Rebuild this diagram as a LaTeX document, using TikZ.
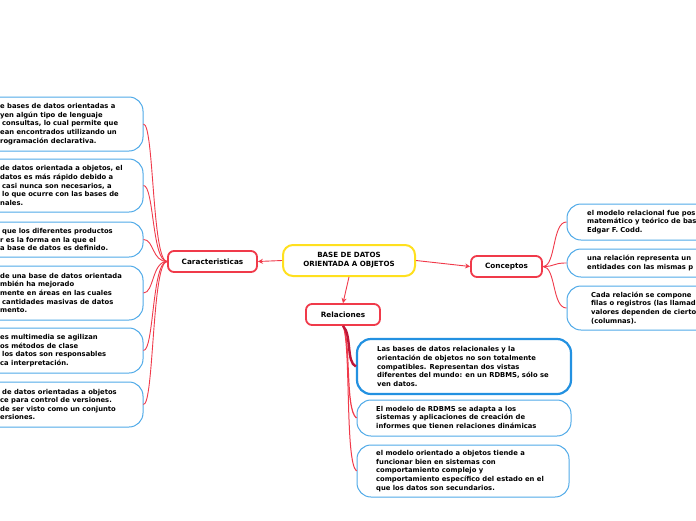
\documentclass[tikz,border=0pt]{standalone}
\usepackage{fontspec}
\setmainfont{DejaVu Sans}
\usetikzlibrary{arrows.meta}
\definecolor{mred}{RGB}{240,58,74}
\definecolor{mcrim}{RGB}{190,22,56}
\definecolor{myel}{RGB}{255,224,30}
\definecolor{mblue}{RGB}{80,170,232}
\definecolor{mbluedk}{RGB}{35,145,225}
\tikzset{
  txt/.style={font=\bfseries\fontsize{6.8}{8.6}\selectfont, align=left, inner sep=0pt, anchor=west, text=black},
  centralbox/.style={draw=myel, line width=2pt, rounded corners=10pt, fill=white, minimum width=132pt, minimum height=31pt, inner sep=0pt, align=center, font=\bfseries\fontsize{7.1}{9}\selectfont},
  redbox/.style={draw=mred, line width=1.8pt, rounded corners=6pt, fill=white, minimum height=21pt, inner sep=0pt, font=\bfseries\fontsize{7.3}{8}\selectfont},
  bluebox/.style={draw=mblue, line width=1pt, rounded corners=14pt, fill=white, inner sep=0pt},
  bluethick/.style={draw=mbluedk, line width=2.2pt, rounded corners=14pt, fill=white, inner sep=0pt},
  conn/.style={draw=mred, line width=0.9pt},
  arr/.style={draw=mred, line width=0.9pt, -{Stealth[length=5pt,width=5pt]}}
}
\begin{document}
\begin{tikzpicture}[x=1pt,y=-1pt]
\useasboundingbox (0,0) rectangle (696,520);
\clip (0,0) rectangle (696,520);
\fill[white] (0,0) rectangle (696,520);

% main nodes
\node[centralbox] (c) at (349,260.5) {BASE DE DATOS\\ORIENTADA A OBJETOS};
\node[redbox, minimum width=89pt] (car) at (212.5,261.5) {Caracteristicas};
\node[redbox, minimum width=74pt] (rel) at (343,314.5) {Relaciones};
\node[redbox, minimum width=71pt] (con) at (506.5,266.5) {Conceptos};

% left boxes
\node[bluebox, minimum width=223pt, minimum height=54pt] (l1) at (31.5,124) {};
\node[bluebox, minimum width=223pt, minimum height=53pt] (l2) at (31.5,185.5) {};
\node[bluebox, minimum width=223pt, minimum height=35pt] (l3) at (31.5,239.5) {};
\node[bluebox, minimum width=223pt, minimum height=54pt] (l4) at (31.5,293) {};
\node[bluebox, minimum width=223pt, minimum height=45pt] (l5) at (31.5,350.5) {};
\node[bluebox, minimum width=223pt, minimum height=45pt] (l6) at (31.5,404.5) {};

\node[txt] (t1) at (0,124) {e bases de datos orientadas a\\yen algún tipo de lenguaje\\\hspace*{2pt}consultas, lo cual permite que\\ean encontrados utilizando un\\rogramación declarativa.};
\node[txt] (t2) at (0,185.5) {de datos orientada a objetos, el\\datos es más rápido debido a\\\hspace*{2pt}casi nunca son necesarios, a\\\hspace*{2pt}lo que ocurre con las bases de\\nales.};
\node[txt] (t3) at (0,239.5) {\hspace*{2pt}que los diferentes productos\\r es la forma en la que el\\a base de datos es definido.};
\node[txt] (t4) at (0,293) {de una base de datos orientada\\mbién ha mejorado\\mente en áreas en las cuales\\\hspace*{2pt}cantidades masivas de datos\\mento.};
\node[txt] (t5) at (0,350.5) {es multimedia se agilizan\\os métodos de clase\\\hspace*{2pt}los datos son responsables\\ca interpretación.};
\node[txt] (t6) at (0,404.5) {\hspace*{2pt}de datos orientadas a objetos\\ce para control de versiones.\\de ser visto como un conjunto\\ersiones.};

% right boxes
\node[bluebox, minimum width=193pt, minimum height=36pt] (r1) at (663.5,222) {};
\node[bluebox, minimum width=193pt, minimum height=28pt] (r2) at (663.5,263) {};
\node[bluebox, minimum width=193pt, minimum height=44pt] (r3) at (663.5,308) {};
\node[txt] (u1) at (587,222) {el modelo relacional fue pos\\matemático y teórico de bas\\Edgar F. Codd.};
\node[txt] (u2) at (587,263) {una relación representa un\\entidades con las mismas p};
\node[txt] (u3) at (591,308) {Cada relación se compone\\filas o registros (las llamad\\valores dependen de cierto\\(columnas).};

% relaciones boxes
\node[bluethick, minimum width=214pt, minimum height=55pt] (b1) at (464,366.5) {};
\node[bluebox, minimum width=214pt, minimum height=36pt] (b2) at (464,418) {};
\node[bluebox, minimum width=212pt, minimum height=52pt] (b3) at (463,471) {};
\node[txt] (v1) at (377,366.5) {Las bases de datos relacionales y la\\orientación de objetos no son totalmente\\compatibles. Representan dos vistas\\diferentes del mundo: en un RDBMS, sólo se\\ven datos.};
\node[txt] (v2) at (376,418) {El modelo de RDBMS se adapta a los\\sistemas y aplicaciones de creación de\\informes que tienen relaciones dinámicas};
\node[txt] (v3) at (376,471) {el modelo orientado a objetos tiende a\\funcionar bien en sistemas con\\comportamiento complejo y\\comportamiento específico del estado en el\\que los datos son secundarios.};

% arrows from central
\draw[arr] (c.west) -- (car.east);
\draw[arr] (c.south) -- (rel.north);
\draw[arr] (c.east) -- (con.west);

% caracteristicas connectors
\foreach \n/\y in {l1/124,l2/185.5,l3/239.5,l4/293,l5/350.5,l6/404.5}{
  \draw[conn] (car.west) .. controls (152,261.5) and (154,\y) .. (\n.east);
}

% conceptos connectors
\foreach \n/\y in {r1/222,r2/263,r3/308}{
  \draw[conn] (con.east) .. controls (556,266.5) and (552,\y) .. (\n.west);
}

% relaciones connectors
\draw[draw=mred, line width=1pt] (rel.south) .. controls (351,345) and (345,462) .. (b3.west);
\draw[draw=mred, line width=1.2pt] (rel.south) .. controls (351,340) and (345,410) .. (b2.west);
\draw[draw=mcrim, line width=2.4pt] (rel.south) .. controls (352,335) and (346,362) .. (b1.west);
\end{tikzpicture}
\end{document}
